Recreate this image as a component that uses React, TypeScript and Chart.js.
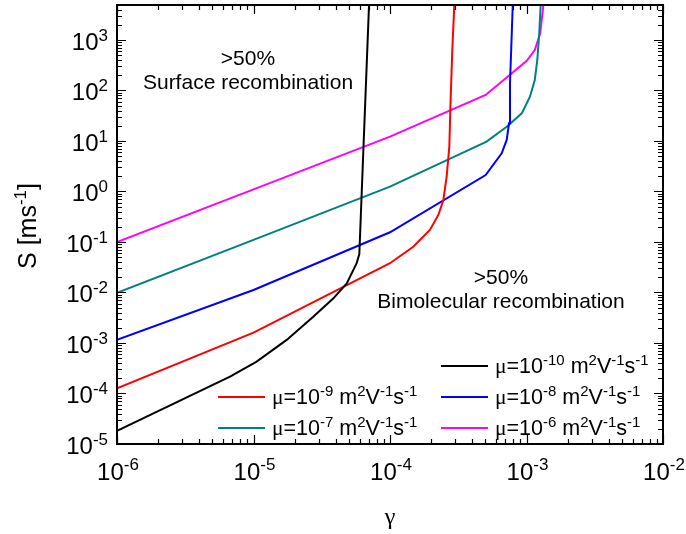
import React, { useEffect, useRef } from 'react';
import { Chart, registerables } from 'chart.js';

Chart.register(...registerables);

// Axis ranges
const X_MIN = 1e-6;
const X_MAX = 1e-2;
const Y_MIN = 1e-5;
const Y_MAX = 4930;

// Tick decades (exponents)
const xDecades = [-6, -5, -4, -3, -2];
const yDecades = [-5, -4, -3, -2, -1, 0, 1, 2, 3];
const minorMantissas = [2, 3, 4, 5, 6, 7, 8, 9];

// Series: mu exponents and colours
const muExponents = ['-10', '-9', '-8', '-7', '-6'];
const seriesColors = ['#000000', '#ff0000', '#0000ff', '#008080', '#ff00ff'];

// mu = 1e-10
const gammaMu10 = [1e-6, 6.73e-6, 1.054e-5, 1.75e-5, 2.74e-5, 3.85e-5, 4.82e-5, 5.7e-5, 5.96e-5, 7.02e-5];
const sMu10 = [1.82e-5, 2.15e-4, 4.27e-4, 1.15e-3, 3.31e-3, 7.67e-3, 0.0151, 0.038, 0.0575, 4930];

// mu = 1e-9
const gammaMu9 = [1e-6, 1e-5, 1e-4, 1.48e-4, 1.96e-4, 2.26e-4, 2.46e-4, 2.6e-4, 2.72e-4, 2.78e-4, 2.86e-4, 2.96e-4];
const sMu9 = [1.27e-4, 1.6e-3, 0.038, 0.0807, 0.173, 0.343, 0.679, 1.96, 7.71, 64.9, 631, 4930];

// mu = 1e-8
const gammaMu8 = [1e-6, 1e-5, 1e-4, 5.02e-4, 6.58e-4, 7.16e-4, 7.45e-4, 7.57e-4, 7.8e-4, 7.93e-4];
const sMu8 = [1.15e-3, 0.0112, 0.156, 2.12, 5.7, 10.5, 22.4, 139, 1358, 4930];

// mu = 1e-7
const gammaMu7 = [1e-6, 1e-5, 1e-4, 5.1e-4, 7.16e-4, 9.23e-4, 1.06e-3, 1.15e-3, 1.2e-3, 1.24e-3, 1.27e-3];
const sMu7 = [9.8e-3, 0.11, 1.25, 9.7, 19.2, 35.3, 75.5, 161, 402, 1358, 4930];

// mu = 1e-6
const gammaMu6 = [1e-6, 1e-5, 1e-4, 5.02e-4, 1e-3, 1.15e-3, 1.26e-3, 1.31e-3, 1.33e-3];
const sMu6 = [0.1, 1.1, 12.2, 81.5, 384, 631, 1358, 3390, 4930];

const seriesGamma = [gammaMu10, gammaMu9, gammaMu8, gammaMu7, gammaMu6];
const seriesS = [sMu10, sMu9, sMu8, sMu7, sMu6];

// Annotation texts
const annotationTop = ['>50%', 'Surface recombination'];
const annotationBottom = ['>50%', 'Bimolecular recombination'];

const SANS = '"Liberation Sans", Arial, sans-serif';
const SERIF = '"Liberation Serif", "Times New Roman", serif';

type Part = { t: string; sup?: boolean; serif?: boolean };

function drawRich(
  ctx: CanvasRenderingContext2D,
  parts: Part[],
  x: number,
  y: number,
  align: 'left' | 'center' | 'right',
  size: number,
  supSize: number,
  raise: number
) {
  const fontOf = (p: Part) => `${p.sup ? supSize : size}px ${p.serif ? SERIF : SANS}`;
  let w = 0;
  for (const p of parts) {
    ctx.font = fontOf(p);
    w += ctx.measureText(p.t).width;
  }
  let cx = align === 'left' ? x : align === 'right' ? x - w : x - w / 2;
  ctx.textAlign = 'left';
  ctx.textBaseline = 'alphabetic';
  for (const p of parts) {
    ctx.font = fontOf(p);
    ctx.fillText(p.t, cx, p.sup ? y - raise : y);
    cx += ctx.measureText(p.t).width;
  }
}

const decoPlugin = {
  id: 'deco',
  afterDraw(chart: any) {
    const ctx: CanvasRenderingContext2D = chart.ctx;
    const { left, right, top, bottom } = chart.chartArea;
    const xs = chart.scales.x;
    const ys = chart.scales.y;
    ctx.save();
    ctx.fillStyle = '#000';
    ctx.strokeStyle = '#000';

    // ticks
    ctx.lineWidth = 1.2;
    const MAJ = 9;
    const MIN = 5;
    const xTick = (v: number, len: number) => {
      const px = Math.round(xs.getPixelForValue(v)) + 0.5;
      ctx.beginPath();
      ctx.moveTo(px, bottom);
      ctx.lineTo(px, bottom - len);
      ctx.moveTo(px, top);
      ctx.lineTo(px, top + len);
      ctx.stroke();
    };
    const yTick = (v: number, len: number) => {
      const py = Math.round(ys.getPixelForValue(v)) + 0.5;
      ctx.beginPath();
      ctx.moveTo(left, py);
      ctx.lineTo(left + len, py);
      ctx.moveTo(right, py);
      ctx.lineTo(right - len, py);
      ctx.stroke();
    };
    for (const e of xDecades) {
      const base = Math.pow(10, e);
      xTick(base, MAJ);
      for (const m of minorMantissas) {
        const v = m * base;
        if (v < X_MAX) xTick(v, MIN);
      }
    }
    for (const e of yDecades) {
      const base = Math.pow(10, e);
      yTick(base, MAJ);
      for (const m of minorMantissas) {
        const v = m * base;
        if (v < Y_MAX) yTick(v, MIN);
      }
    }

    // border
    ctx.lineWidth = 2;
    ctx.strokeRect(left, top, right - left, bottom - top);

    // tick labels
    for (const e of xDecades) {
      const px = xs.getPixelForValue(Math.pow(10, e));
      drawRich(ctx, [{ t: '10' }, { t: String(e), sup: true }], px + 1, 480, 'center', 24, 17, 10);
    }
    for (const e of yDecades) {
      const py = ys.getPixelForValue(Math.pow(10, e));
      drawRich(ctx, [{ t: '10' }, { t: String(e), sup: true }], 108, py + 10, 'right', 24, 17, 9);
    }

    // axis titles
    ctx.save();
    ctx.translate(36, 226);
    ctx.rotate(-Math.PI / 2);
    drawRich(ctx, [{ t: 'S [ms' }, { t: '-1', sup: true }, { t: ']' }], 0, 0, 'center', 25, 17, 10);
    ctx.restore();
    drawRich(ctx, [{ t: 'γ', serif: true }], 390, 524, 'center', 24, 16, 9);

    // annotations
    drawRich(ctx, [{ t: annotationTop[0] }], 248, 65, 'center', 21, 14, 8);
    drawRich(ctx, [{ t: annotationTop[1] }], 248, 89, 'center', 21, 14, 8);
    drawRich(ctx, [{ t: annotationBottom[0] }], 501, 284, 'center', 21, 14, 8);
    drawRich(ctx, [{ t: annotationBottom[1] }], 501, 308, 'center', 21, 14, 8);

    // legend
    const slots = [
      { x: 441, y: 366 },
      { x: 218, y: 397 },
      { x: 441, y: 397 },
      { x: 218, y: 428 },
      { x: 441, y: 428 },
    ];
    muExponents.forEach((exp, i) => {
      const s = slots[i];
      ctx.strokeStyle = seriesColors[i];
      ctx.lineWidth = 2;
      ctx.beginPath();
      ctx.moveTo(s.x, s.y);
      ctx.lineTo(s.x + 47, s.y);
      ctx.stroke();
      ctx.fillStyle = '#000';
      drawRich(
        ctx,
        [
          { t: 'μ', serif: true },
          { t: '=10' },
          { t: exp, sup: true },
          { t: ' m' },
          { t: '2', sup: true },
          { t: 'V' },
          { t: '-1', sup: true },
          { t: 's' },
          { t: '-1', sup: true },
        ],
        s.x + 54,
        s.y + 7,
        'left',
        21.5,
        15,
        8
      );
    });
    ctx.restore();
  },
};

export default function App() {
  const ref = useRef<HTMLCanvasElement>(null);
  useEffect(() => {
    if (!ref.current) return;
    const datasets = seriesGamma.map((g, i) => ({
      label: 'mu=1e' + muExponents[i],
      data: g.map((x, j) => ({ x, y: seriesS[i][j] })),
      borderColor: seriesColors[i],
      backgroundColor: seriesColors[i],
      borderWidth: 2,
      pointRadius: 0,
      tension: 0,
      fill: false,
      clip: 0,
    }));
    const chart = new Chart(ref.current, {
      type: 'line',
      data: { datasets },
      options: {
        animation: false,
        responsive: false,
        devicePixelRatio: 1,
        layout: { padding: { left: 117, right: 23, top: 5, bottom: 90 } },
        plugins: { legend: { display: false }, tooltip: { enabled: false } },
        scales: {
          x: { type: 'logarithmic', min: X_MIN, max: X_MAX, display: false },
          y: { type: 'logarithmic', min: Y_MIN, max: Y_MAX, display: false },
        },
      },
      plugins: [decoPlugin],
    } as any);
    return () => chart.destroy();
  }, []);
  return (
    <div style={{ position: 'fixed', left: 0, top: 0, width: 686, height: 534, background: '#fff' }}>
      <canvas ref={ref} width={686} height={534} style={{ width: 686, height: 534, display: 'block' }} />
    </div>
  );
}
